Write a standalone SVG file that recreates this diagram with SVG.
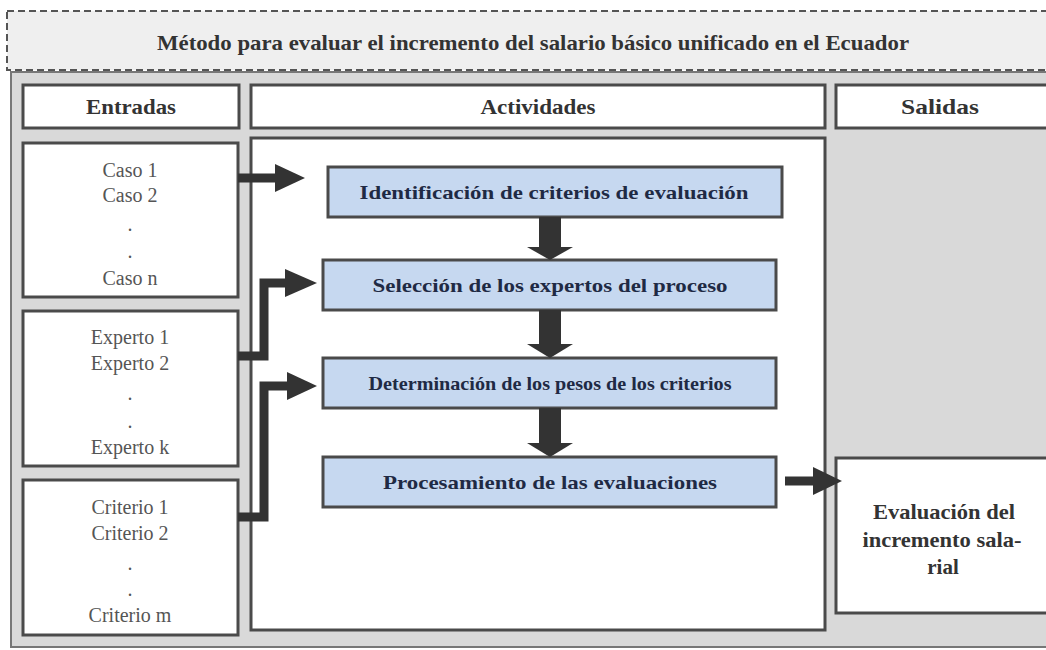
<svg xmlns="http://www.w3.org/2000/svg" width="1046" height="650" viewBox="0 0 1046 650">
<style>
.box{fill:#fff;stroke:#4a4a4a;stroke-width:3}
.act{fill:#c6d8f0;stroke:#4a4a4a;stroke-width:3}
.hd{font-family:"Liberation Serif",serif;font-weight:bold;font-size:21px;fill:#333;text-anchor:middle}
.at{font-family:"Liberation Serif",serif;font-weight:bold;font-size:19px;fill:#1f2a44;text-anchor:middle}
.tx{font-family:"Liberation Serif",serif;font-size:20px;fill:#555;text-anchor:middle}
.ln{fill:none;stroke:#333;stroke-width:9;stroke-linejoin:miter}
.hdh{fill:#333}
</style>
<rect x="0" y="0" width="1046" height="650" fill="#fff"/>
<g id="title">
<rect x="7" y="11" width="1045" height="59" fill="#efefef" stroke="#555" stroke-width="2" stroke-dasharray="7,4"/>
<text class="hd" x="533" y="50" textLength="752" lengthAdjust="spacingAndGlyphs">Método para evaluar el incremento del salario básico unificado en el Ecuador</text>
</g>
<g id="panel">
<rect x="11" y="72" width="1040" height="575" fill="#d9d9d9" stroke="#777" stroke-width="2"/>
</g>
<g id="h-entradas">
<rect class="box" x="23" y="85" width="216" height="43"/>
<text class="hd" x="131" y="114" textLength="90" lengthAdjust="spacingAndGlyphs">Entradas</text>
</g>
<g id="h-actividades">
<rect class="box" x="251" y="85" width="574" height="43"/>
<text class="hd" x="538" y="114" textLength="115" lengthAdjust="spacingAndGlyphs">Actividades</text>
</g>
<g id="h-salidas">
<rect class="box" x="836" y="85" width="215" height="43"/>
<text class="hd" x="940" y="114" textLength="78" lengthAdjust="spacingAndGlyphs">Salidas</text>
</g>
<g id="casos">
<rect class="box" x="23" y="143" width="215" height="154"/>
<text class="tx" x="130" y="177">Caso 1</text>
<text class="tx" x="130" y="202">Caso 2</text>
<text class="tx" x="130" y="231">.</text>
<text class="tx" x="130" y="258">.</text>
<text class="tx" x="130" y="285">Caso n</text>
</g>
<g id="expertos">
<rect class="box" x="23" y="311" width="215" height="155"/>
<text class="tx" x="130" y="344">Experto 1</text>
<text class="tx" x="130" y="370">Experto 2</text>
<text class="tx" x="130" y="400">.</text>
<text class="tx" x="130" y="428">.</text>
<text class="tx" x="130" y="454">Experto k</text>
</g>
<g id="criterios">
<rect class="box" x="23" y="480" width="215" height="155"/>
<text class="tx" x="130" y="514">Criterio 1</text>
<text class="tx" x="130" y="540">Criterio 2</text>
<text class="tx" x="130" y="570">.</text>
<text class="tx" x="130" y="596">.</text>
<text class="tx" x="130" y="622">Criterio m</text>
</g>
<g id="actividades">
<rect class="box" x="251" y="138" width="574" height="492"/>
</g>
<g id="a1">
<rect class="act" x="328" y="167" width="454" height="50"/>
<text class="at" x="554" y="199" textLength="389" lengthAdjust="spacingAndGlyphs">Identificación de criterios de evaluación</text>
</g>
<g id="a2">
<rect class="act" x="323" y="260" width="453" height="50"/>
<text class="at" x="550" y="292" textLength="355" lengthAdjust="spacingAndGlyphs">Selección de los expertos del proceso</text>
</g>
<g id="a3">
<rect class="act" x="323" y="358" width="453" height="50"/>
<text class="at" x="550" y="390" textLength="363" lengthAdjust="spacingAndGlyphs">Determinación de los pesos de los criterios</text>
</g>
<g id="a4">
<rect class="act" x="323" y="457" width="453" height="50"/>
<text class="at" x="550" y="489" textLength="334" lengthAdjust="spacingAndGlyphs">Procesamiento de las evaluaciones</text>
</g>
<g id="salida">
<rect class="box" x="836" y="458" width="215" height="155"/>
<text class="hd" x="944" y="519" textLength="142" lengthAdjust="spacingAndGlyphs">Evaluación del</text>
<text class="hd" x="942" y="547" textLength="159" lengthAdjust="spacingAndGlyphs">incremento sala-</text>
<text class="hd" x="943" y="574">rial</text>
</g>
<g id="connectors">
<path class="ln" d="M238 178 H278"/>
<polygon class="hdh" points="275,164 305,178 275,192"/>
<path class="ln" d="M238 356 H264 V283 H288"/>
<polygon class="hdh" points="285,269 317,283 285,297"/>
<path class="ln" d="M238 517 H264 V386 H290"/>
<polygon class="hdh" points="287,372 317,386 287,400"/>
<rect class="hdh" x="539" y="217" width="22" height="31"/>
<polygon class="hdh" points="527,247 573,247 550,260"/>
<rect class="hdh" x="539" y="310" width="22" height="35"/>
<polygon class="hdh" points="527,344 573,344 550,358"/>
<rect class="hdh" x="539" y="408" width="22" height="36"/>
<polygon class="hdh" points="527,443 573,443 550,457"/>
<path class="ln" d="M785 481 H816"/>
<polygon class="hdh" points="813,467 842,481 813,495"/>
</g>
</svg>
